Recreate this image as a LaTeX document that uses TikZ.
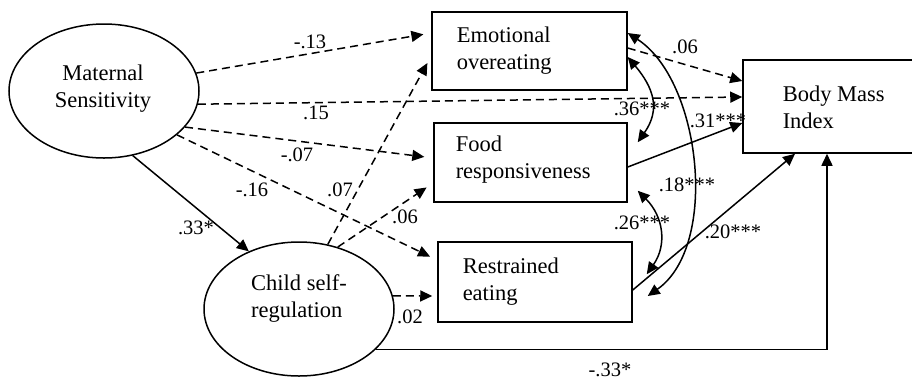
\documentclass[tikz,border=0pt]{standalone}
\usepackage{fontspec}
\setmainfont{Liberation Serif}
\usetikzlibrary{arrows.meta,shapes.geometric}
\begin{document}
\begin{tikzpicture}[x=0.5pt,y=-0.5pt,
  line width=0.75pt,
  >={Triangle[length=6pt,width=5.5pt]},
  latent/.style={draw,ellipse,inner sep=0pt,minimum width=95pt,minimum height=67pt},
  obs/.style={draw,rectangle,inner sep=0pt},
  txt/.style={font=\fontsize{11.25}{13.5}\selectfont,align=left,inner sep=0pt},
  lab/.style={font=\fontsize{10.25}{12}\selectfont,inner sep=0pt},
  dsh/.style={dash pattern=on 4pt off 2.5pt,->},
  sld/.style={->}]
\clip (0,0) rectangle (912,382);
\useasboundingbox (0,0) rectangle (912,382);
% latent variables
\node[latent] (ms) at (104,91) {};
\node[txt,align=center] (mst) at (103,89) {Maternal\\Sensitivity};
\node[latent] (csr) at (299,309) {};
\node[txt] (csrt) at (299,298) {Child self-\\regulation};
% observed boxes
\node[obs,minimum width=97.5pt,minimum height=39pt] (eo) at (529.5,51) {};
\node[txt,anchor=west] (eot) at (456,51) {Emotional\\overeating};
\node[obs,minimum width=96.5pt,minimum height=39.5pt] (fr) at (530.5,162.5) {};
\node[txt,anchor=west] (frt) at (455,160) {Food\\responsiveness};
\node[obs,minimum width=97pt,minimum height=40pt] (re) at (535,282) {};
\node[txt,anchor=west] (ret) at (462,282) {Restrained\\eating};
\node[obs,minimum width=87pt,minimum height=46.5pt] (bmi) at (830,106.5) {};
\node[txt,anchor=west] (bmit) at (782,107) {Body Mass\\Index};
% paths from maternal sensitivity
\draw[dsh,shorten >=4pt] (ms.11) -- ([yshift=9pt]eo.west);
\draw[dsh] (ms.-8) -- ([yshift=4.75pt]bmi.west);
\draw[dsh,shorten >=4.5pt] (ms.-24) -- ([yshift=2.25pt]fr.west);
\draw[dsh,shorten >=4pt] (ms.-31) -- ([yshift=11pt]re.west);
\draw[sld] (ms.-66) -- (csr.131);
% paths from child self-regulation
\draw[dsh,shorten >=4pt] (csr.66) -- ([yshift=-2.5pt]eo.west);
\draw[dsh,shorten >=4pt] (csr.58) -- ([yshift=-10.25pt]fr.west);
\draw[dsh,shorten >=2.5pt] (csr.8) -- ([yshift=-7pt]re.west);
\draw[sld] (csr.-28) -| ([xshift=-1.5pt]bmi.south);
% paths to BMI
\draw[dsh] ([yshift=1.5pt]eo.east) -- ([yshift=12.75pt]bmi.west);
\draw[sld] ([yshift=-2.25pt]fr.east) -- ([yshift=-8.25pt]bmi.west);
\draw[sld] ([yshift=-4pt]re.east) -- ([xshift=-17.5pt]bmi.south);
% covariances
\draw[<->] ([yshift=-3pt]eo.east) to[out=-50,in=55,looseness=1.2] ([xshift=5pt,yshift=-10pt]fr.north east);
\draw[<->] ([xshift=5pt,yshift=6pt]fr.south east) to[out=-45,in=55,looseness=1.1] ([xshift=7pt,yshift=-16.5pt]re.north east);
\draw[<->] ([yshift=9pt]eo.east) to[out=-33,in=35,looseness=0.85] ([xshift=7.5pt,yshift=-7pt]re.east);
% labels
\node[lab] (l1) at (310,42) {-.13};
\node[lab] (l2) at (316,113) {.15};
\node[lab] (l3) at (297,155) {-.07};
\node[lab] (l4) at (252,190) {-.16};
\node[lab] (l5) at (340,190) {.07};
\node[lab] (l6) at (405,217) {.06};
\node[lab] (l7) at (196,228) {.33*};
\node[lab] (l8) at (410,317) {.02};
\node[lab] (l9) at (610,370) {-.33*};
\node[lab] (l10) at (685,47) {.06};
\node[lab] (l11) at (642,109) {.36***};
\node[lab] (l12) at (718,121) {.31***};
\node[lab] (l13) at (687,185) {.18***};
\node[lab] (l14) at (642,223) {.26***};
\node[lab] (l15) at (733,232) {.20***};
\end{tikzpicture}
\end{document}
